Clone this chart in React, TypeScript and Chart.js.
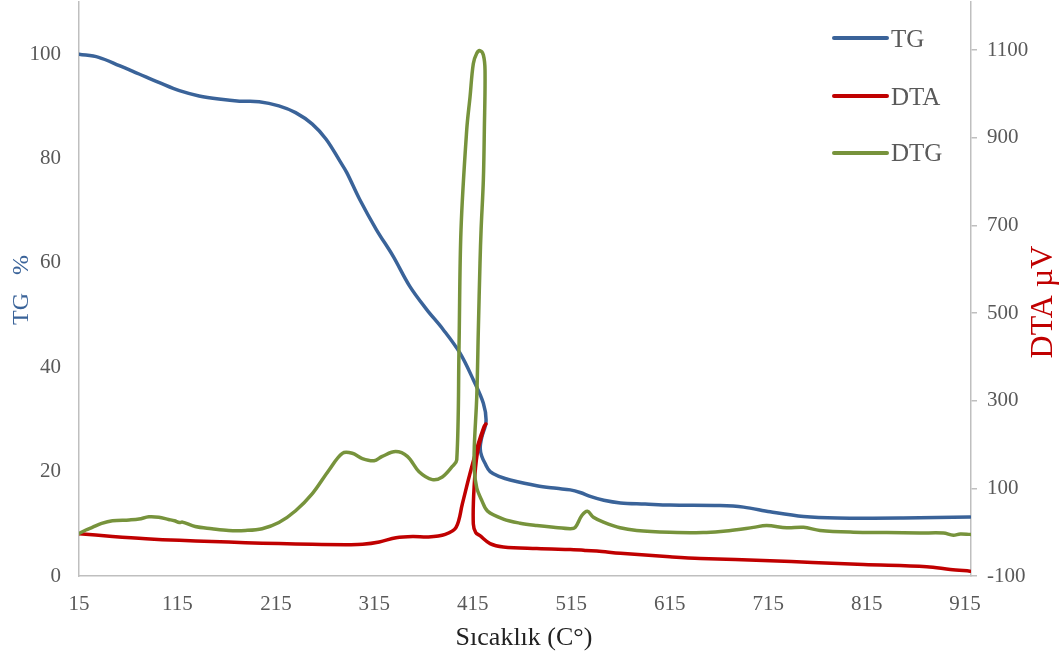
import React, { useEffect, useRef } from 'react';
import { Chart, registerables } from 'chart.js';

Chart.register(...registerables);

// ---------- DATA ----------
const xTicks = [15, 115, 215, 315, 415, 515, 615, 715, 815, 915];
const leftTicks = [0, 20, 40, 60, 80, 100];
const rightTicks = [-100, 100, 300, 500, 700, 900, 1100];

const seriesNames = ['TG', 'DTA', 'DTG'];

const tgTemp = [15, 35, 56, 76, 96, 117, 137, 157, 178, 198, 218, 235, 252, 266, 280, 287, 300, 317, 334, 351, 368, 385, 402, 415.5, 425.7, 428.4, 424, 422.5, 424, 427.4, 432.6, 443, 453, 480, 500, 514, 524, 535, 548, 565, 590, 615, 666, 690, 717, 751, 785, 852, 920];
const tgValues = [100, 99.4, 97.8, 96.2, 94.6, 93.0, 92.0, 91.4, 91.0, 90.9, 90.1, 88.8, 86.6, 83.7, 79.5, 77.3, 72.2, 66.4, 61.3, 55.5, 51.1, 47.2, 42.7, 37.6, 33.1, 29.6, 26.5, 24.5, 23.0, 21.6, 20.0, 19.0, 18.4, 17.3, 16.8, 16.5, 16.0, 15.2, 14.5, 14.0, 13.8, 13.6, 13.5, 13.2, 12.3, 11.4, 11.1, 11.1, 11.3];

const dtaTemp = [15, 49, 83, 117, 150, 184, 218, 252, 286, 303, 320, 337, 354, 370, 387, 398, 404.4, 411.2, 419.6, 426.4, 428.4, 426.5, 419.6, 416.3, 415.5, 418, 422.3, 432.5, 446, 480, 514, 525, 530, 541, 565, 615, 646, 717, 760, 812, 876, 900, 920];
const dtaValues = [-3.5, -9.6, -14.8, -18.6, -21, -24, -26, -27.7, -28.4, -27.7, -22.5, -12.5, -9.6, -11, -5, 11, 65, 126, 195, 241, 247, 239, 180, 103, 19, -1, -8, -26, -33.7, -37.4, -39.7, -40.5, -42, -43, -48, -56, -60, -65, -69, -74, -79, -85, -89];

const dtgTemp = [15, 22, 28.5, 38, 49, 66, 76, 86, 96, 106, 112, 117, 120, 133, 150, 167, 184, 201, 218, 235, 252, 269, 282.5, 292.6, 302.8, 314.7, 323, 336.6, 348.5, 360.4, 373.9, 384, 394.2, 398.7, 401, 403, 408.8, 412.2, 415.5, 419, 422.3, 425.7, 427.4, 426.7, 425.7, 423.4, 422.3, 420.6, 419, 416.5, 416.5, 419, 424, 430, 446, 463, 480, 497, 514, 519, 525.7, 531.4, 537.5, 547.7, 564.6, 581.5, 615, 649, 669.5, 683, 700, 713.5, 733.8, 750.8, 767.7, 801.6, 835.4, 869, 893, 903, 910, 920];
const dtgValues = [-3, 5, 11, 20, 26, 28, 30, 35, 34, 29, 26, 22, 23, 13, 8, 4, 4, 8, 22, 49, 88, 142, 180, 180, 168, 163, 173, 184, 173, 138, 120, 126, 150, 165, 425, 690, 918, 994, 1069, 1093, 1099, 1089, 1054, 918, 804, 690, 614, 461, 309, 195, 142, 101, 73, 48, 30, 20.5, 15, 11, 8, 11, 38, 48, 34, 23, 10, 4, 0, -1, 2, 5.5, 11, 15, 10, 11, 4, 0, -1, -2, -2, -7, -4, -5];

// ---------- STYLE ----------
const COLORS = ['#3A6399', '#C00000', '#77933C'];
const SERIF = '"Liberation Serif", "Times New Roman", serif';
const AXIS_GRAY = '#BFBFBF';
const TICK_COLOR = '#595959';

const toPoints = (xs: number[], ys: number[]) => xs.map((x, i) => ({ x, y: ys[i] }));

const zeroPad = (scale: any) => {
  scale.paddingTop = 0;
  scale.paddingBottom = 0;
  scale.paddingLeft = 0;
  scale.paddingRight = 0;
};

const decorPlugin = {
  id: 'decor',
  afterDraw(chart: any) {
    const ctx = chart.ctx as CanvasRenderingContext2D;
    ctx.save();
    // legend
    const legendY = [38, 96, 153];
    const legendBase = [47, 105, 161];
    seriesNames.forEach((name, i) => {
      ctx.strokeStyle = COLORS[i];
      ctx.lineWidth = 4;
      ctx.lineCap = 'round';
      ctx.beginPath();
      ctx.moveTo(834, legendY[i]);
      ctx.lineTo(887, legendY[i]);
      ctx.stroke();
      ctx.fillStyle = TICK_COLOR;
      ctx.font = `25px ${SERIF}`;
      ctx.textAlign = 'left';
      ctx.textBaseline = 'alphabetic';
      ctx.fillText(name, 891, legendBase[i]);
    });
    // x title
    ctx.fillStyle = '#222222';
    ctx.font = `26px ${SERIF}`;
    ctx.textAlign = 'center';
    ctx.textBaseline = 'alphabetic';
    ctx.fillText('Sıcaklık (C°)', 524, 645);
    // left title
    ctx.save();
    ctx.translate(28, 290);
    ctx.rotate(-Math.PI / 2);
    ctx.fillStyle = COLORS[0];
    ctx.font = `24px ${SERIF}`;
    ctx.fillText('TG   %', 0, 0);
    ctx.restore();
    // right title
    ctx.save();
    ctx.translate(1052, 302);
    ctx.rotate(-Math.PI / 2);
    ctx.fillStyle = COLORS[1];
    ctx.font = `32px ${SERIF}`;
    ctx.fillText('DTA µV', 0, 0);
    ctx.restore();
    ctx.restore();
  },
};

export default function App() {
  const canvasRef = useRef<HTMLCanvasElement | null>(null);

  useEffect(() => {
    if (!canvasRef.current) return;
    const chart = new Chart(canvasRef.current, {
      type: 'line',
      data: {
        datasets: [
          {
            label: seriesNames[0],
            data: toPoints(tgTemp, tgValues),
            borderColor: COLORS[0],
            yAxisID: 'yL',
            order: 3,
          },
          {
            label: seriesNames[1],
            data: toPoints(dtaTemp, dtaValues),
            borderColor: COLORS[1],
            yAxisID: 'yR',
            order: 2,
          },
          {
            label: seriesNames[2],
            data: toPoints(dtgTemp, dtgValues),
            borderColor: COLORS[2],
            yAxisID: 'yR',
            order: 1,
          },
        ],
      },
      options: {
        responsive: false,
        animation: false,
        layout: { padding: { top: 2, left: 0, right: 0, bottom: 0 } },
        elements: {
          point: { radius: 0, hoverRadius: 0 },
          line: { borderWidth: 3.5, tension: 0.35, fill: false, borderCapStyle: 'round', borderJoinStyle: 'round' },
        },
        plugins: {
          legend: { display: false },
          tooltip: { enabled: false },
        },
        scales: {
          x: {
            type: 'linear',
            position: 'bottom',
            min: 15,
            max: 921,
            afterBuildTicks: (scale: any) => {
              scale.ticks = xTicks.map((v) => ({ value: v }));
            },
            afterFit: (scale: any) => {
              scale.height = 80;
              zeroPad(scale);
            },
            grid: { display: false },
            border: { display: true, color: AXIS_GRAY, width: 1.5 },
            ticks: {
              color: TICK_COLOR,
              font: { family: SERIF, size: 21 },
              padding: 8,
              maxRotation: 0,
              autoSkip: false,
              callback: (v: any) => String(v),
            },
          },
          yL: {
            type: 'linear',
            position: 'left',
            min: 0,
            max: 110,
            afterBuildTicks: (scale: any) => {
              scale.ticks = leftTicks.map((v) => ({ value: v }));
            },
            afterFit: (scale: any) => {
              scale.width = 79;
              zeroPad(scale);
            },
            grid: { display: false },
            border: { display: true, color: AXIS_GRAY, width: 1.5 },
            ticks: {
              color: TICK_COLOR,
              font: { family: SERIF, size: 21 },
              padding: 10,
              autoSkip: false,
              callback: (v: any) => String(v),
            },
          },
          yR: {
            type: 'linear',
            position: 'right',
            min: -100,
            max: 1210,
            afterBuildTicks: (scale: any) => {
              scale.ticks = rightTicks.map((v) => ({ value: v }));
            },
            afterFit: (scale: any) => {
              scale.width = 89;
              zeroPad(scale);
            },
            grid: {
              display: true,
              drawOnChartArea: false,
              drawTicks: true,
              tickLength: 6,
              color: AXIS_GRAY,
              lineWidth: 1.5,
            },
            border: { display: true, color: AXIS_GRAY, width: 1.5 },
            ticks: {
              color: TICK_COLOR,
              font: { family: SERIF, size: 21 },
              padding: 10,
              autoSkip: false,
              callback: (v: any) => String(v),
            },
          },
        },
      },
      plugins: [decorPlugin],
    });
    return () => chart.destroy();
  }, []);

  return (
    <div style={{ position: 'fixed', left: 0, top: 0, width: 1060, height: 656, background: '#ffffff' }}>
      <canvas ref={canvasRef} width={1060} height={656} style={{ display: 'block' }} />
    </div>
  );
}
